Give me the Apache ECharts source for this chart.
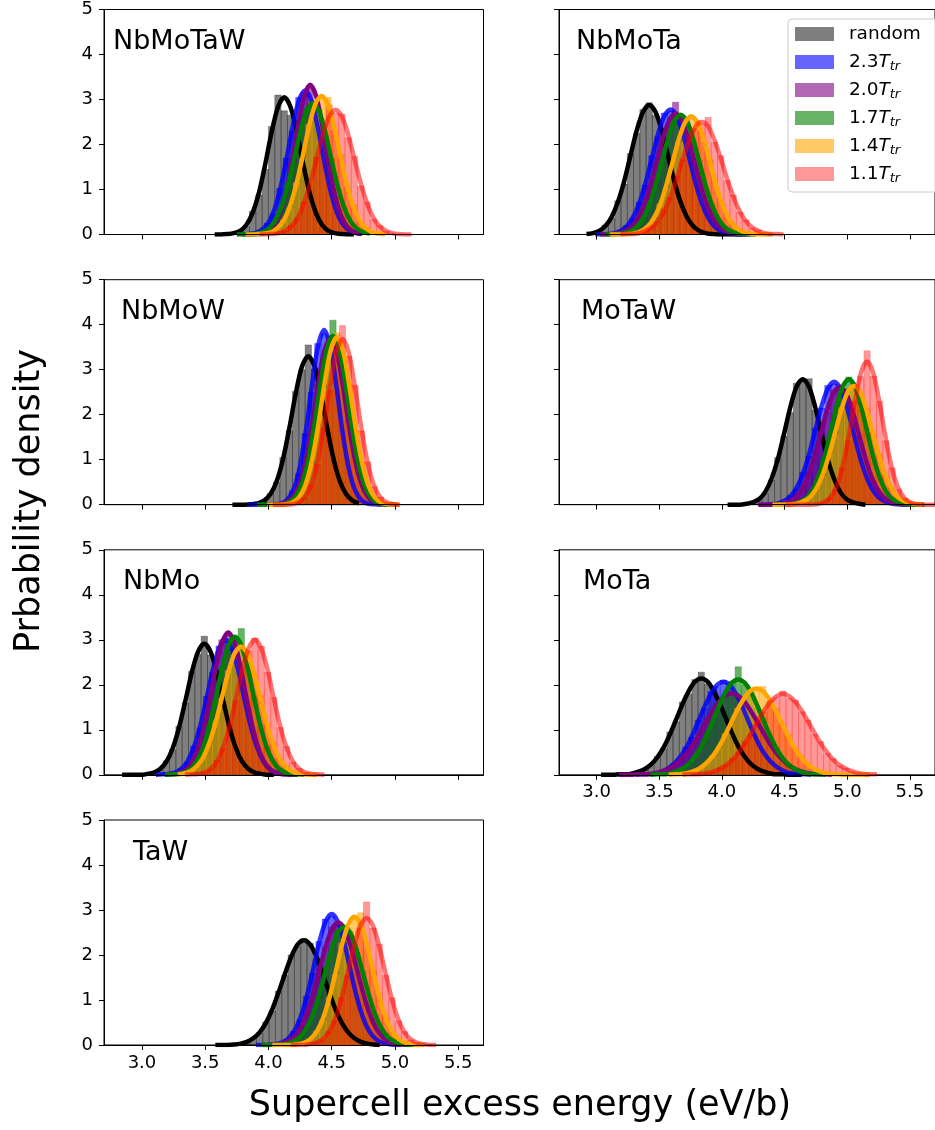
<!DOCTYPE html>
<html>
<head>
<meta charset="utf-8">
<title>Supercell excess energy</title>
<script src="https://cdn.jsdelivr.net/npm/echarts@6.0.0/dist/echarts.min.js"></script>
<style>
  html, body { margin: 0; padding: 0; background: #fff; }
  #chart { width: 935px; height: 1130px; }
</style>
</head>
<body>
<div id="chart"></div>
<script>
const panelNames = ['NbMoTaW', 'NbMoTa', 'NbMoW', 'MoTaW', 'NbMo', 'MoTa', 'TaW'];
const seriesNames = ['random', '2.3', '2.0', '1.7', '1.4', '1.1'];
const xTicks = [3.0, 3.5, 4.0, 4.5, 5.0, 5.5];
const binWidth = 0.05;

// x of the first point of each series (random, 2.3, 2.0, 1.7, 1.4, 1.1), then one value every 0.05 eV/b
const startNbMoTaW = [3.575, 3.79, 3.83, 3.75, 3.82, 3.93];
const fitNbMoTaW = [
  [0,0,0.01,0.03,0.08,0.21,0.48,0.93,1.57,2.27,2.83,3.05,2.83,2.27,1.57,0.93,0.48,0.21,0.08,0.03,0.01,0,0],
  [0,0.01,0.03,0.09,0.22,0.50,0.98,1.64,2.38,2.97,3.20,2.97,2.38,1.64,0.98,0.50,0.22,0.09,0.03,0.01],
  [0,0,0.01,0.05,0.15,0.38,0.83,1.53,2.35,3.05,3.33,3.05,2.35,1.53,0.83,0.38,0.15,0.05,0.01],
  [0,0,0,0.02,0.05,0.13,0.29,0.59,1.05,1.64,2.26,2.74,2.92,2.74,2.26,1.64,1.05,0.59,0.29,0.13,0.05,0.02],
  [0,0,0.01,0.02,0.05,0.14,0.31,0.63,1.11,1.73,2.39,2.89,3.08,2.89,2.39,1.73,1.11,0.63,0.31,0.14,0.05,0.02,0.01],
  [0,0,0.01,0.03,0.08,0.18,0.37,0.69,1.14,1.68,2.22,2.62,2.77,2.62,2.22,1.68,1.14,0.69,0.37,0.18,0.08,0.03,0.01,0,0]
];
const histNbMoTaW = [
  [0,0,0.02,0.05,0.10,0.18,0.52,0.88,1.45,2.40,3.10,2.75,2.65,2.20,1.62,0.90,0.45,0.24,0.07,0.02,0.01,0,0],
  [0,0.02,0.04,0.08,0.25,0.46,1.02,1.70,2.30,3.05,3.12,2.90,2.45,1.58,1.02,0.47,0.24,0.08,0.03,0.01],
  [0,0.01,0.02,0.06,0.13,0.40,0.80,1.60,2.28,3.15,3.28,2.98,2.42,1.48,0.86,0.36,0.16,0.04,0.01],
  [0,0,0.01,0.02,0.06,0.12,0.31,0.56,1.10,1.58,2.32,2.80,2.85,2.78,2.20,1.70,1.00,0.62,0.27,0.14,0.04,0.02],
  [0,0.01,0.01,0.03,0.06,0.13,0.33,0.60,1.15,1.68,2.45,2.82,3.02,3.05,2.30,1.78,1.05,0.66,0.29,0.15,0.05,0.02,0.01],
  [0,0.01,0.02,0.04,0.07,0.20,0.35,0.72,1.10,1.72,2.18,2.88,2.70,2.68,2.15,1.74,1.08,0.72,0.34,0.20,0.07,0.03,0.01,0.01,0]
];

const startNbMoTa = [2.92, 2.99, 3.03, 3.07, 3.105, 3.19];
const fitNbMoTa = [
  [0.01,0.03,0.08,0.19,0.39,0.72,1.18,1.75,2.31,2.72,2.88,2.72,2.31,1.75,1.18,0.72,0.39,0.19,0.08,0.03,0.01,0,0,0,0,0],
  [0,0,0.01,0.03,0.08,0.18,0.38,0.69,1.14,1.69,2.23,2.63,2.78,2.63,2.23,1.69,1.14,0.69,0.38,0.18,0.08,0.03,0.01,0,0],
  [0,0,0.01,0.03,0.08,0.18,0.36,0.67,1.11,1.63,2.15,2.54,2.69,2.54,2.15,1.63,1.11,0.67,0.36,0.18,0.08,0.03,0.01,0,0],
  [0,0,0.01,0.03,0.08,0.17,0.36,0.66,1.09,1.61,2.13,2.52,2.66,2.52,2.13,1.61,1.09,0.66,0.36,0.17,0.08,0.03,0.01,0,0],
  [0,0,0,0.01,0.03,0.08,0.17,0.36,0.65,1.08,1.60,2.11,2.49,2.63,2.49,2.11,1.60,1.08,0.65,0.36,0.17,0.08,0.03,0.01,0,0,0],
  [0,0.01,0.01,0.03,0.08,0.16,0.30,0.53,0.85,1.25,1.70,2.10,2.40,2.50,2.40,2.10,1.70,1.25,0.85,0.53,0.30,0.16,0.08,0.03,0.01,0.01,0]
];
const histNbMoTa = [
  [0.01,0.04,0.07,0.21,0.36,0.75,1.12,1.80,2.25,2.78,2.93,2.65,2.36,1.70,1.22,0.68,0.41,0.17,0.09,0.02,0.01,0.01,0,0,0,0],
  [0,0.01,0.01,0.04,0.07,0.20,0.36,0.72,1.10,1.75,2.18,2.70,2.74,2.58,2.28,1.64,1.18,0.66,0.40,0.16,0.09,0.02,0.01,0,0],
  [0,0.01,0.02,0.03,0.09,0.16,0.38,0.64,1.15,1.58,2.20,2.50,2.94,2.48,2.20,1.58,1.14,0.64,0.38,0.17,0.08,0.02,0.01,0,0],
  [0,0.01,0.01,0.04,0.07,0.19,0.34,0.69,1.05,1.66,2.08,2.58,2.62,2.55,2.08,1.66,1.05,0.68,0.34,0.18,0.07,0.03,0.01,0,0],
  [0,0,0.01,0.01,0.04,0.07,0.19,0.34,0.68,1.04,1.65,2.05,2.55,2.60,2.52,2.05,1.66,1.04,0.68,0.34,0.18,0.07,0.03,0.01,0.01,0,0],
  [0,0.01,0.02,0.03,0.07,0.18,0.28,0.56,0.82,1.30,1.66,2.15,2.35,2.45,2.60,2.05,1.75,1.20,0.88,0.50,0.32,0.14,0.09,0.03,0.01,0.01,0]
];

const startNbMoW = [3.715, 3.84, 3.94, 3.91, 3.99, 4.035];
const fitNbMoW = [
  [0,0,0,0.01,0.03,0.09,0.23,0.52,1.01,1.70,2.46,3.07,3.30,3.07,2.46,1.70,1.01,0.52,0.23,0.09,0.03],
  [0,0,0,0,0.01,0.02,0.09,0.29,0.74,1.53,2.57,3.50,3.88,3.50,2.57,1.53,0.74,0.29,0.09,0.02,0.01,0],
  [0,0,0,0.01,0.05,0.16,0.42,0.92,1.69,2.62,3.39,3.70,3.39,2.62,1.69,0.92,0.42,0.16,0.05,0.01,0,0],
  [0,0,0,0,0.01,0.05,0.17,0.43,0.93,1.72,2.65,3.44,3.75,3.44,2.65,1.72,0.93,0.43,0.17,0.05,0.01,0,0],
  [0,0,0,0.01,0.05,0.16,0.42,0.93,1.70,2.63,3.41,3.72,3.41,2.63,1.70,0.93,0.42,0.16,0.05,0.01,0,0],
  [0,0,0,0.01,0.05,0.16,0.42,0.92,1.69,2.60,3.37,3.68,3.37,2.60,1.69,0.92,0.42,0.16,0.05,0.01,0]
];
const histNbMoW = [
  [0,0,0.01,0.01,0.04,0.08,0.25,0.50,1.05,1.65,2.52,3.00,3.55,3.02,2.40,1.74,0.98,0.55,0.21,0.08,0.03],
  [0,0,0,0.01,0.01,0.03,0.08,0.31,0.70,1.58,2.50,3.58,3.80,3.55,2.50,1.58,0.72,0.30,0.08,0.03,0.01,0],
  [0,0,0.01,0.02,0.04,0.17,0.40,0.95,1.64,2.68,3.32,3.75,3.42,2.55,1.74,0.88,0.44,0.15,0.05,0.01,0,0],
  [0,0,0,0.01,0.02,0.05,0.16,0.45,0.90,1.76,2.60,3.40,4.10,3.35,2.70,1.68,0.95,0.41,0.18,0.05,0.01,0,0],
  [0,0,0.01,0.02,0.05,0.15,0.44,0.90,1.75,2.58,3.45,3.82,3.35,2.68,1.66,0.95,0.40,0.17,0.05,0.01,0,0],
  [0,0,0.01,0.02,0.05,0.15,0.44,0.90,1.72,2.55,3.42,3.98,3.30,2.65,1.64,0.95,0.40,0.17,0.05,0.01,0]
];

const startMoTaW = [4.045, 4.295, 4.29, 4.413, 4.403, 4.508];
const fitMoTaW = [
  [0,0,0,0.02,0.05,0.12,0.28,0.57,1.00,1.57,2.16,2.62,2.79,2.62,2.16,1.57,1.00,0.57,0.28,0.12,0.05,0.02,0],
  [0,0,0.01,0.03,0.08,0.18,0.37,0.68,1.12,1.66,2.19,2.58,2.73,2.58,2.19,1.66,1.12,0.68,0.37,0.18,0.08,0.03,0.01,0,0],
  [0,0,0,0.01,0.03,0.07,0.17,0.35,0.65,1.08,1.59,2.10,2.48,2.62,2.48,2.10,1.59,1.08,0.65,0.35,0.17,0.07,0.03,0.01,0,0],
  [0,0,0,0.02,0.05,0.12,0.28,0.57,1.00,1.57,2.16,2.62,2.79,2.62,2.16,1.57,1.00,0.57,0.28,0.12,0.05,0.02,0,0,0],
  [0,0,0,0.01,0.03,0.08,0.17,0.36,0.66,1.09,1.60,2.11,2.50,2.64,2.50,2.11,1.60,1.09,0.66,0.36,0.17,0.08,0.03,0.01,0],
  [0,0,0,0,0,0.01,0.05,0.14,0.36,0.79,1.46,2.25,2.92,3.18,2.92,2.25,1.46,0.79,0.36,0.14,0.05,0.01,0,0,0]
];
const histMoTaW = [
  [0,0.01,0.01,0.02,0.06,0.14,0.26,0.55,1.05,1.52,2.05,2.70,2.74,2.80,2.10,1.62,0.95,0.60,0.26,0.13,0.04,0.02,0],
  [0,0.01,0.01,0.04,0.07,0.20,0.35,0.72,1.08,1.70,2.15,2.65,2.68,2.55,2.24,1.60,1.15,0.66,0.38,0.17,0.08,0.02,0.01,0,0],
  [0,0,0.01,0.01,0.04,0.06,0.19,0.33,0.68,1.04,1.64,2.05,2.55,2.58,2.42,2.15,1.55,1.10,0.62,0.37,0.16,0.08,0.02,0.01,0,0],
  [0,0,0.01,0.02,0.06,0.11,0.30,0.55,1.04,1.52,2.20,2.58,2.84,2.66,2.12,1.60,0.96,0.59,0.27,0.13,0.04,0.02,0.01,0,0],
  [0,0,0.01,0.02,0.03,0.09,0.16,0.38,0.63,1.12,1.56,2.16,2.46,2.68,2.45,2.15,1.56,1.12,0.63,0.38,0.16,0.08,0.03,0.01,0],
  [0,0,0,0,0.01,0.02,0.04,0.15,0.34,0.82,1.42,2.30,2.85,3.42,2.86,2.30,1.42,0.82,0.34,0.15,0.05,0.01,0,0,0]
];

const startNbMo = [2.843, 3.11, 3.182, 3.185, 3.283, 3.343];
const fitNbMo = [
  [0,0,0,0,0.02,0.05,0.13,0.29,0.59,1.05,1.64,2.26,2.73,2.91,2.73,2.26,1.64,1.05,0.59,0.29,0.13,0.05,0.02,0,0],
  [0,0.01,0.02,0.05,0.13,0.30,0.61,1.08,1.69,2.33,2.81,3.00,2.81,2.33,1.69,1.08,0.61,0.30,0.13,0.05,0.02,0.01,0],
  [0,0.01,0.03,0.08,0.22,0.50,0.97,1.62,2.35,2.94,3.16,2.94,2.35,1.62,0.97,0.50,0.22,0.08,0.03,0.01,0,0],
  [0,0.01,0.02,0.05,0.13,0.31,0.62,1.11,1.73,2.38,2.88,3.07,2.88,2.38,1.73,1.11,0.62,0.31,0.13,0.05,0.02,0.01,0],
  [0.01,0.03,0.08,0.19,0.38,0.71,1.17,1.73,2.28,2.70,2.85,2.70,2.28,1.73,1.17,0.71,0.38,0.19,0.08,0.03,0.01,0,0],
  [0,0.01,0.02,0.05,0.13,0.30,0.61,1.08,1.69,2.33,2.81,3.00,2.81,2.33,1.69,1.08,0.61,0.30,0.13,0.05,0.02,0.01,0]
];
const histNbMo = [
  [0,0,0,0.01,0.02,0.06,0.12,0.31,0.56,1.08,1.60,2.30,2.68,3.08,2.66,2.30,1.60,1.08,0.56,0.31,0.12,0.05,0.02,0,0],
  [0,0.01,0.03,0.04,0.14,0.28,0.64,1.04,1.74,2.28,2.86,2.96,2.84,2.28,1.72,1.04,0.63,0.29,0.14,0.05,0.02,0.01,0],
  [0.01,0.01,0.02,0.09,0.20,0.52,0.94,1.66,2.30,3.00,3.12,2.98,2.30,1.66,0.94,0.52,0.20,0.09,0.03,0.01,0,0],
  [0,0.01,0.02,0.06,0.12,0.32,0.60,1.14,1.70,2.42,2.84,3.00,3.25,2.34,1.76,1.08,0.64,0.30,0.13,0.05,0.02,0.01,0],
  [0.01,0.03,0.09,0.18,0.40,0.69,1.20,1.70,2.32,2.66,2.92,2.74,2.24,1.76,1.14,0.72,0.37,0.20,0.07,0.03,0.01,0,0],
  [0,0.01,0.03,0.05,0.12,0.32,0.58,1.12,1.65,2.38,2.76,3.04,2.86,2.28,1.72,1.05,0.63,0.28,0.14,0.05,0.02,0.01,0]
];

const startMoTa = [3.035, 3.312, 3.178, 3.43, 3.575, 3.686];
const fitMoTa = [
  [0,0,0,0.01,0.01,0.03,0.07,0.13,0.23,0.39,0.61,0.90,1.23,1.57,1.86,2.07,2.14,2.07,1.86,1.57,1.23,0.90,0.61,0.39,0.23,0.13,0.07,0.03,0.01,0.01,0,0,0],
  [0,0.01,0.01,0.03,0.06,0.13,0.23,0.38,0.59,0.87,1.19,1.52,1.80,2.00,2.07,2.00,1.80,1.52,1.19,0.87,0.59,0.38,0.23,0.13,0.06,0.03,0.01,0.01,0],
  [0,0,0,0.01,0.01,0.02,0.04,0.08,0.14,0.22,0.35,0.51,0.71,0.95,1.20,1.43,1.63,1.76,1.81,1.76,1.63,1.43,1.20,0.95,0.71,0.51,0.35,0.22,0.14,0.08,0.04,0.02,0.01,0.01,0],
  [0,0.01,0.01,0.03,0.07,0.13,0.23,0.39,0.61,0.89,1.22,1.55,1.85,2.05,2.12,2.05,1.85,1.55,1.22,0.89,0.61,0.39,0.23,0.13,0.07,0.03,0.01,0.01,0],
  [0,0.01,0.02,0.04,0.08,0.15,0.26,0.41,0.62,0.88,1.17,1.45,1.69,1.86,1.92,1.86,1.69,1.45,1.17,0.88,0.62,0.41,0.26,0.15,0.08,0.04,0.02,0.01,0,0,0,0,0],
  [0,0.01,0.01,0.02,0.04,0.08,0.14,0.22,0.34,0.51,0.71,0.94,1.19,1.43,1.62,1.75,1.80,1.75,1.62,1.43,1.19,0.94,0.71,0.51,0.34,0.22,0.14,0.08,0.04,0.02,0.01,0.01]
];
const histMoTa = [
  [0,0,0.01,0.01,0.02,0.03,0.06,0.14,0.21,0.41,0.58,0.95,1.18,1.62,1.80,2.12,2.28,2.02,1.90,1.50,1.28,0.86,0.64,0.36,0.25,0.12,0.08,0.02,0.01,0.01,0,0,0],
  [0,0.01,0.02,0.02,0.07,0.12,0.25,0.36,0.62,0.84,1.22,1.48,1.85,1.96,2.10,2.04,1.75,1.56,1.15,0.90,0.56,0.40,0.21,0.14,0.05,0.03,0.01,0.01,0],
  [0,0,0.01,0.01,0.02,0.02,0.05,0.07,0.15,0.21,0.37,0.49,0.74,0.92,1.24,1.40,1.66,1.72,1.86,1.74,1.66,1.40,1.23,0.92,0.74,0.49,0.36,0.21,0.15,0.07,0.04,0.02,0.01,0.01,0],
  [0,0.01,0.02,0.03,0.06,0.14,0.22,0.41,0.58,0.92,1.18,1.60,1.80,2.08,2.40,2.00,1.88,1.50,1.25,0.86,0.63,0.37,0.24,0.12,0.07,0.03,0.01,0.01,0],
  [0,0.01,0.02,0.05,0.07,0.16,0.25,0.43,0.60,0.91,1.14,1.48,1.66,1.90,1.88,1.96,1.64,1.48,1.14,0.90,0.60,0.43,0.24,0.16,0.07,0.04,0.02,0.01,0.01,0,0,0,0],
  [0,0.01,0.01,0.03,0.04,0.07,0.15,0.21,0.36,0.49,0.74,0.90,1.22,1.40,1.66,1.72,1.86,1.70,1.66,1.40,1.22,0.90,0.74,0.48,0.36,0.20,0.15,0.07,0.04,0.02,0.01,0.01]
];

const startTaW = [3.58, 3.90, 3.952, 3.947, 4.03, 4.176];
const fitTaW = [
  [0,0,0,0.01,0.03,0.07,0.15,0.28,0.49,0.79,1.17,1.58,1.96,2.23,2.33,2.23,1.96,1.58,1.17,0.79,0.49,0.28,0.15,0.07,0.03,0.01,0],
  [0,0,0,0.02,0.05,0.13,0.29,0.59,1.05,1.64,2.26,2.73,2.91,2.73,2.26,1.64,1.05,0.59,0.29,0.13,0.05,0.02,0,0],
  [0,0,0.01,0.03,0.08,0.18,0.37,0.68,1.12,1.65,2.18,2.57,2.72,2.57,2.18,1.65,1.12,0.68,0.37,0.18,0.08,0.03,0.01,0,0],
  [0,0,0,0.01,0.03,0.08,0.17,0.36,0.65,1.08,1.60,2.11,2.49,2.63,2.49,2.11,1.60,1.08,0.65,0.36,0.17,0.08,0.03,0.01,0,0],
  [0,0,0,0,0.02,0.05,0.13,0.29,0.58,1.03,1.60,2.21,2.67,2.85,2.67,2.21,1.60,1.03,0.58,0.29,0.13,0.05,0.02,0,0],
  [0,0,0,0.02,0.05,0.12,0.28,0.57,1.02,1.59,2.19,2.65,2.82,2.65,2.19,1.59,1.02,0.57,0.28,0.12,0.05,0.02,0,0]
];
const histTaW = [
  [0,0,0.01,0.01,0.04,0.06,0.16,0.27,0.51,0.76,1.20,1.55,2.00,2.20,2.36,2.26,1.92,1.62,1.14,0.82,0.47,0.29,0.14,0.07,0.02,0.01,0],
  [0,0,0.01,0.02,0.06,0.12,0.31,0.56,1.08,1.60,2.30,2.80,2.86,2.70,2.30,1.60,1.08,0.57,0.30,0.12,0.05,0.02,0,0],
  [0,0.01,0.01,0.04,0.07,0.19,0.35,0.71,1.08,1.70,2.14,2.62,2.68,2.60,2.14,1.70,1.08,0.70,0.35,0.19,0.07,0.03,0.01,0,0],
  [0,0,0.01,0.01,0.04,0.07,0.18,0.34,0.68,1.04,1.64,2.06,2.54,2.58,2.52,2.06,1.64,1.04,0.68,0.34,0.18,0.07,0.03,0.01,0,0],
  [0,0,0,0.01,0.02,0.06,0.12,0.31,0.55,1.06,1.56,2.26,2.62,2.80,2.94,2.16,1.64,1.00,0.60,0.28,0.14,0.05,0.02,0,0],
  [0,0,0.01,0.02,0.06,0.11,0.30,0.54,1.05,1.55,2.24,2.60,3.18,2.60,2.24,1.55,1.05,0.54,0.30,0.11,0.05,0.02,0.01,0]
];

const panels = [
  { start: startNbMoTaW, fit: fitNbMoTaW, hist: histNbMoTaW },
  { start: startNbMoTa, fit: fitNbMoTa, hist: histNbMoTa },
  { start: startNbMoW, fit: fitNbMoW, hist: histNbMoW },
  { start: startMoTaW, fit: fitMoTaW, hist: histMoTaW },
  { start: startNbMo, fit: fitNbMo, hist: histNbMo },
  { start: startMoTa, fit: fitMoTa, hist: histMoTa },
  { start: startTaW, fit: fitTaW, hist: histTaW }
];

const font = 'DejaVu Sans';
const histColors = ['rgba(0,0,0,0.5)', 'rgba(0,0,255,0.6)', 'rgba(128,0,128,0.6)', 'rgba(0,128,0,0.6)', 'rgba(255,165,0,0.6)', 'rgba(255,0,0,0.4)'];
const lineColors = ['#000000', 'rgba(0,0,255,0.8)', '#800080', '#008000', '#ffa500', 'rgba(255,0,0,0.55)'];

const colLeft = [104, 559];
const rowTop = [9.5, 279.7, 549.8, 820];
const plotW = 379.5, plotH = 225;
const titleLeft = [113, 576, 121, 581, 123, 583, 133];
const bottomPanels = [5, 6]; // these carry the x tick labels

const toPoints = (start, vals) => vals.map((v, i) => [Math.round((start + i * binWidth) * 1000) / 1000, v]);

function renderBin(params, api) {
  const x = api.value(0), h = api.value(1);
  if (!h) return null;
  const p0 = api.coord([x - binWidth / 2, h]);
  const p1 = api.coord([x + binWidth / 2, 0]);
  const c = api.visual('color');
  return {
    type: 'rect',
    shape: { x: p0[0], y: p0[1], width: p1[0] - p0[0], height: p1[1] - p0[1] },
    style: { fill: c, stroke: c, lineWidth: 0.5 }
  };
}

const grid = [], xAxis = [], yAxis = [], title = [];
panelNames.forEach((name, i) => {
  const col = i % 2, row = Math.floor(i / 2);
  grid.push({
    left: colLeft[col], top: rowTop[row], width: plotW, height: plotH,
    show: true, borderColor: '#000', borderWidth: 1, backgroundColor: 'transparent'
  });
  xAxis.push({
    type: 'value', gridIndex: i, min: 2.7, max: 5.7, z: 5,
    splitLine: { show: false },
    axisLine: { lineStyle: { color: '#000', width: 1 } },
    axisTick: { customValues: xTicks, length: 5, lineStyle: { color: '#000' } },
    axisLabel: {
      show: bottomPanels.includes(i), customValues: xTicks, margin: 9,
      fontFamily: font, fontSize: 18, color: '#000',
      formatter: v => v.toFixed(1)
    }
  });
  yAxis.push({
    type: 'value', gridIndex: i, min: 0, max: 5, interval: 1, z: 5,
    splitLine: { show: false },
    axisLine: { show: true, lineStyle: { color: '#000', width: 1 } },
    axisTick: { show: true, length: 5, lineStyle: { color: '#000' } },
    axisLabel: { show: col === 0, margin: 11, fontFamily: font, fontSize: 18, color: '#000' }
  });
  title.push({
    text: name, left: titleLeft[i], top: rowTop[row] + 19, padding: 0,
    textStyle: { fontFamily: font, fontSize: 27, fontWeight: 'normal', color: '#000' }
  });
});

const series = [];
panels.forEach((p, gi) => {
  p.hist.forEach((vals, si) => {
    series.push({
      type: 'custom', name: seriesNames[si], xAxisIndex: gi, yAxisIndex: gi,
      renderItem: renderBin, clip: true, silent: true, z: 2,
      itemStyle: { color: histColors[si] },
      data: toPoints(p.start[si], vals)
    });
  });
});
panels.forEach((p, gi) => {
  p.fit.forEach((vals, si) => {
    series.push({
      type: 'line', name: 'fit ' + seriesNames[si], xAxisIndex: gi, yAxisIndex: gi,
      data: toPoints(p.start[si], vals), smooth: 0.3, showSymbol: false, symbol: 'none',
      silent: true, z: 3, clip: true,
      lineStyle: { color: lineColors[si], width: 4.5 }
    });
  });
});

const chart = echarts.init(document.getElementById('chart'));
chart.setOption({
  animation: false,
  backgroundColor: '#fff',
  title: title,
  grid: grid,
  xAxis: xAxis,
  yAxis: yAxis,
  legend: {
    data: seriesNames, orient: 'vertical', left: 788, top: 19, z: 10,
    padding: [4, 30, 7, 7], itemWidth: 39, itemHeight: 14, itemGap: 6,
    icon: 'rect', selectedMode: false,
    backgroundColor: 'rgba(255,255,255,0.8)', borderColor: '#cccccc', borderWidth: 1, borderRadius: 4,
    formatter: name => name === 'random' ? 'random' : name + '{t|T}{s|tr}',
    textStyle: {
      fontFamily: font, fontSize: 18.5, color: '#000', lineHeight: 22, padding: [0, 0, 0, 10],
      rich: {
        t: { fontFamily: font, fontSize: 18.5, fontStyle: 'italic', color: '#000', lineHeight: 22 },
        s: { fontFamily: font, fontSize: 13, fontStyle: 'italic', color: '#000', lineHeight: 10, verticalAlign: 'bottom' }
      }
    }
  },
  graphic: [
    {
      type: 'text', x: 520, y: 1106,
      style: { text: 'Supercell excess energy (eV/b)', fontFamily: font, fontSize: 35, fill: '#000', align: 'center', verticalAlign: 'middle' }
    },
    {
      type: 'text', x: 30, y: 501, rotation: Math.PI / 2,
      style: { text: 'Prbability density', fontFamily: font, fontSize: 35, fill: '#000', align: 'center', verticalAlign: 'middle' }
    }
  ],
  series: series
});
</script>
</body>
</html>
